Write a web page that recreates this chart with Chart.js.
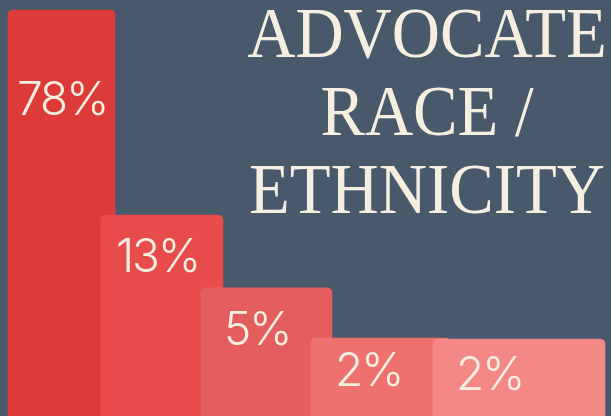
<!DOCTYPE html>
<html>
<head>
<meta charset="utf-8">
<script src="https://cdn.jsdelivr.net/npm/chart.js@4.4.1/dist/chart.umd.min.js"></script>
<style>
  html, body { margin: 0; padding: 0; background: #48596c; }
  #wrap { width: 611px; height: 416px; position: relative; }
</style>
</head>
<body>
<div id="wrap"><canvas id="raceChart"></canvas></div>
<script>
// values
var groups = ['Group 1', 'Group 2', 'Group 3', 'Group 4', 'Group 5'];
var shares = [78, 13, 5, 2, 2];                  // printed percentages
var barHeights = [97.6, 48.3, 30.8, 18.75, 18.5]; // drawn height, % of plot
var barCenters = [61.5, 162, 266.5, 380.5, 519];  // x, on a 0..611 axis
var titleLines = ['ADVOCATE', 'RACE /', 'ETHNICITY'];

var colors = ['#dc3b39', '#e84b4b', '#e45e5f', '#ee7170', '#f48886'];
var widths = [107, 122, 131, 139, 172];
var labelPadX = [9, 15, 23, 24, 23];
var labelDropY = [105, 57, 57, 48, 51];

var datasets = groups.map(function(g, i) {
    return {
        label: g,
        data: [{ x: barCenters[i], y: barHeights[i] }],
        backgroundColor: colors[i],
        barThickness: widths[i],
        borderRadius: 5,
        borderSkipped: 'bottom',
        order: groups.length - i
    };
});

var labelPlugin = {
    id: 'barLabels',
    afterDatasetsDraw: function(chart) {
        var ctx = chart.ctx;
        ctx.save();
        ctx.fillStyle = '#f5efe2';
        ctx.font = '300 46px Inter';
        ctx.letterSpacing = '-2px';
        ctx.textAlign = 'left';
        ctx.textBaseline = 'alphabetic';
        chart.data.datasets.forEach(function(ds, i) {
            var el = chart.getDatasetMeta(i).data[0];
            var left = el.x - el.width / 2;
            ctx.fillText(shares[i] + '%', left + labelPadX[i], el.y + labelDropY[i]);
        });
        ctx.restore();
    }
};

var titlePlugin = {
    id: 'sideTitle',
    afterDraw: function(chart) {
        var ctx = chart.ctx;
        ctx.save();
        ctx.fillStyle = '#f5efe2';
        ctx.font = '71px "Liberation Serif"';
        ctx.textAlign = 'center';
        ctx.textBaseline = 'alphabetic';
        ctx.translate(427, 0);
        ctx.scale(0.94, 1);
        titleLines.forEach(function(t, i) {
            ctx.fillText(t, 0, 57 + i * 78);
        });
        ctx.restore();
    }
};

var chart = new Chart(document.getElementById('raceChart'), {
    type: 'bar',
    data: { datasets: datasets },
    options: {
        responsive: true,
        maintainAspectRatio: false,
        animation: false,
        layout: { padding: 0 },
        datasets: { bar: { grouped: false } },
        scales: {
            x: { type: 'linear', min: 0, max: 611, offset: false, display: false },
            y: { min: 0, max: 100, display: false }
        },
        plugins: {
            legend: { display: false },
            tooltip: { enabled: false }
        }
    },
    plugins: [labelPlugin, titlePlugin]
});
</script>
</body>
</html>
